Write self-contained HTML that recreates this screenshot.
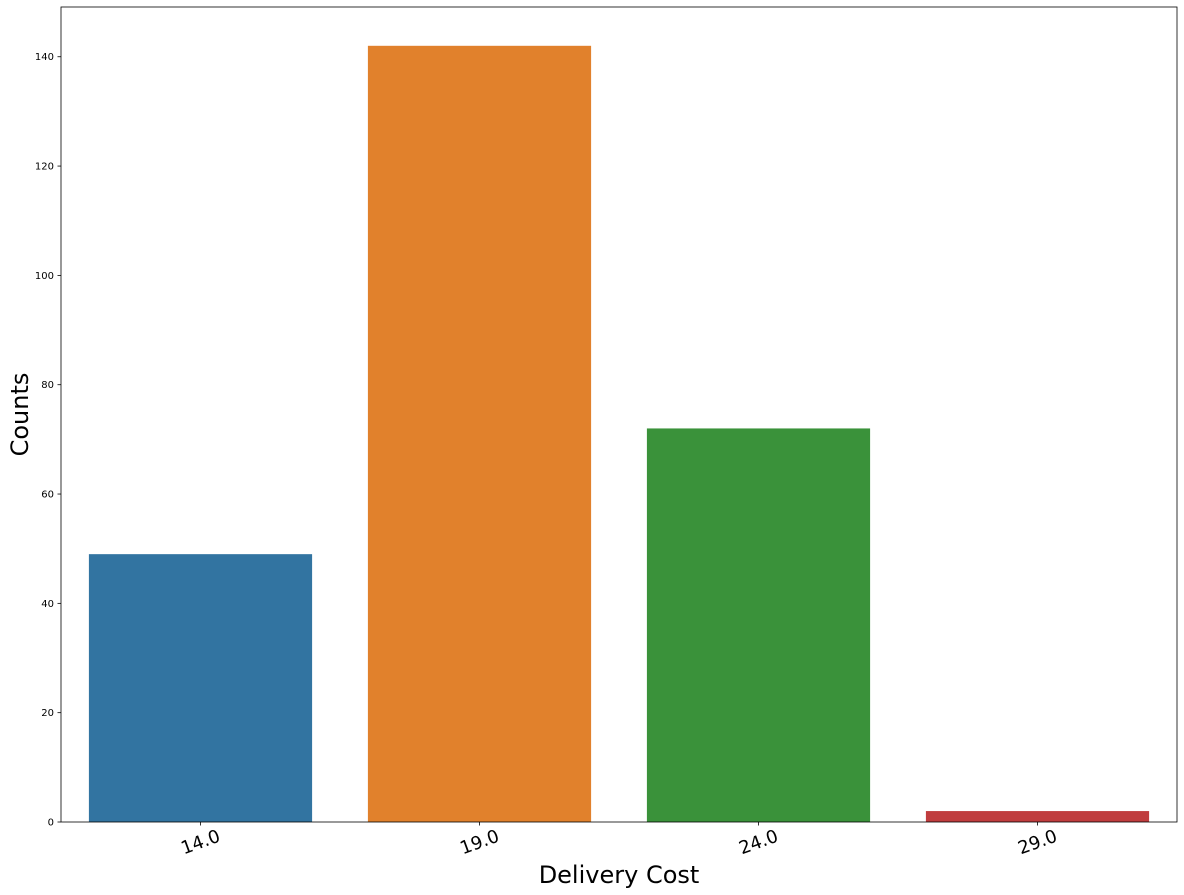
<!DOCTYPE html>
<html><head><meta charset="utf-8"><style>
body{margin:0;background:#fff;}
svg{display:block;font-family:"DejaVu Sans","Liberation Sans",sans-serif;}
</style></head><body>
<svg id="chart" width="1184" height="895"></svg>
<script>
const categories=["14.0","19.0","24.0","29.0"];
const counts=[49,142,72,2];
const colors=["#3274a1","#e1812c","#3a923a","#c03d3e"];
const yTicks=[0,20,40,60,80,100,120,140];
const NS="http://www.w3.org/2000/svg";
const svg=document.getElementById('chart');
const L=61,R=1177,T=7,B=822;
const yMax=Math.max(...counts)*1.05;
const y=v=>B-(v/yMax)*(B-T);
const step=(R-L)/categories.length;
const x=i=>L+step*(i+0.5);
function mk(tag,attrs,text){const e=document.createElementNS(NS,tag);for(const k in attrs)e.setAttribute(k,attrs[k]);if(text!=null)e.textContent=text;svg.appendChild(e);return e;}
counts.forEach((v,i)=>{
  const r=mk('rect',{x:x(i)-step*0.4,y:y(v),width:step*0.8,height:B-y(v),fill:colors[i]});
  
  
});
yTicks.forEach(t=>{
  const l=mk('line',{x1:L-3.5,x2:L,y1:y(t),y2:y(t),stroke:'#000','stroke-width':0.8});
  
  
  const tx=mk('text',{x:L-7,y:y(t)+3.5,'font-size':10,'text-anchor':'end'},String(t));
  
  
});
categories.forEach((c,i)=>{
  const l=mk('line',{x1:x(i),x2:x(i),y1:B,y2:B+3.5,stroke:'#000','stroke-width':0.8});
  
  
  const cx=x(i),cy=B+20;
  const tx=mk('text',{x:cx,y:cy+6,'font-size':18,'text-anchor':'middle',transform:`rotate(-20 ${cx} ${cy})`},c);
  
  
});
const fr=mk('rect',{x:L,y:T,width:R-L,height:B-T,fill:'none',stroke:'#000','stroke-width':0.8});


const xl=mk('text',{x:(L+R)/2,y:883,'font-size':24,'text-anchor':'middle'},'Delivery Cost');


const yl=mk('text',{x:28,y:(T+B)/2,'font-size':24,'text-anchor':'middle',transform:`rotate(-90 28 ${(T+B)/2})`},'Counts');


</script>
</body></html>
